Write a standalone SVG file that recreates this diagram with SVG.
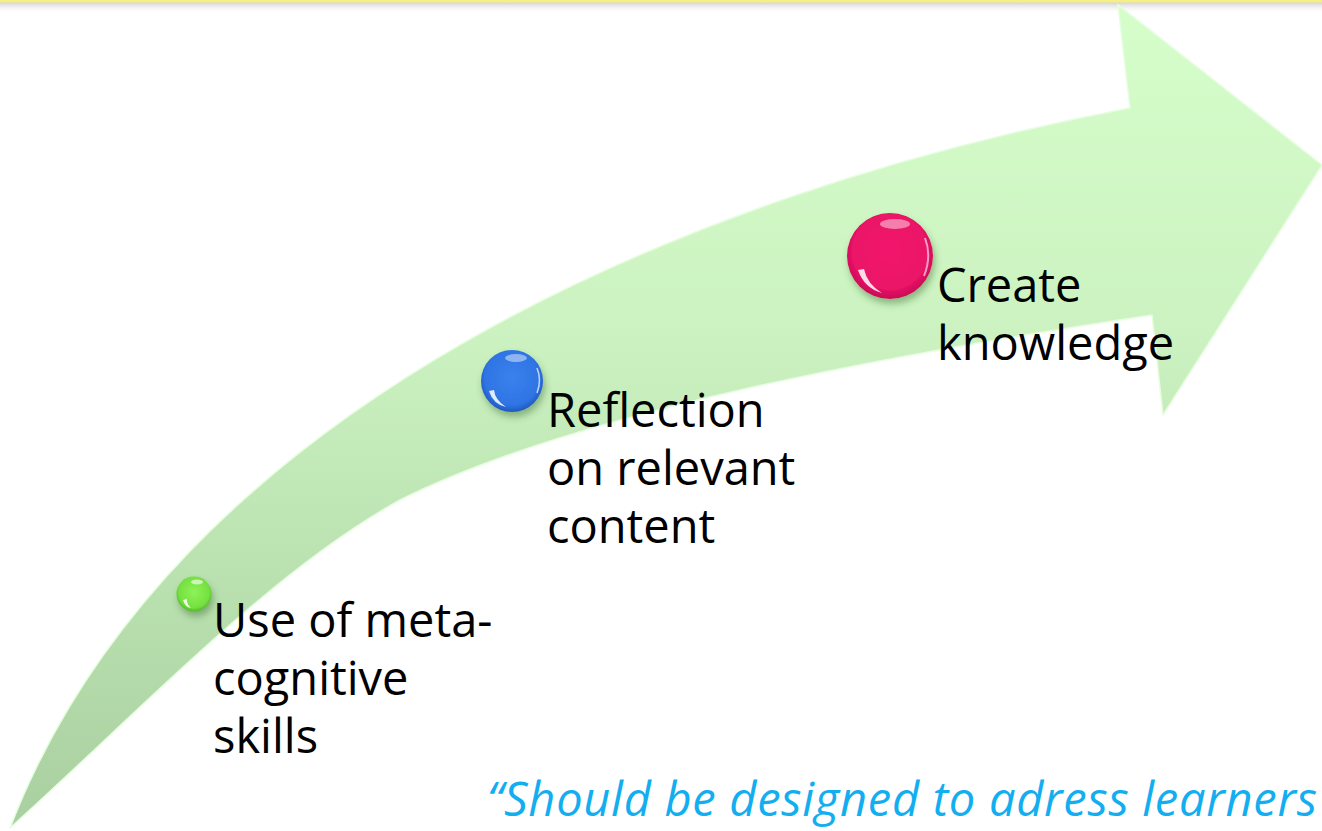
<svg xmlns="http://www.w3.org/2000/svg" width="1322" height="831" viewBox="0 0 1322 831">
  <defs>
    <linearGradient id="arrowFill" gradientUnits="userSpaceOnUse" x1="0" y1="0" x2="0" y2="831">
      <stop offset="0" stop-color="#d6fecb"/>
      <stop offset="0.4" stop-color="#cbf2c0"/>
      <stop offset="1" stop-color="#a9cfa0"/>
    </linearGradient>
    <linearGradient id="topShadow" x1="0" y1="0" x2="0" y2="1">
      <stop offset="0" stop-color="#d0d0d0"/>
      <stop offset="1" stop-color="#ffffff" stop-opacity="0"/>
    </linearGradient>
    <radialGradient id="pinkG" cx="0.5" cy="0.45" r="0.55">
      <stop offset="0" stop-color="#f2176c"/>
      <stop offset="0.8" stop-color="#ea1266"/>
      <stop offset="1" stop-color="#c50c56"/>
    </radialGradient>
    <radialGradient id="blueG" cx="0.5" cy="0.45" r="0.55">
      <stop offset="0" stop-color="#3a82ee"/>
      <stop offset="0.8" stop-color="#2f74e4"/>
      <stop offset="1" stop-color="#1f58be"/>
    </radialGradient>
    <radialGradient id="greenG" cx="0.5" cy="0.45" r="0.55">
      <stop offset="0" stop-color="#8ef25a"/>
      <stop offset="0.8" stop-color="#74e03e"/>
      <stop offset="1" stop-color="#52b82a"/>
    </radialGradient>
    <filter id="shadow" x="-40%" y="-40%" width="180%" height="190%">
      <feDropShadow dx="2" dy="5" stdDeviation="3.5" flood-color="#3a6a30" flood-opacity="0.45"/>
    </filter>
  </defs>
  <style>
    .label { font-family: "Open Sans", "Noto Sans", "Liberation Sans", sans-serif; font-size: 47px; fill: #000000; }
    .quote { font-family: "Open Sans", "Noto Sans", "Liberation Sans", sans-serif; font-size: 47px; font-style: italic; fill: #12aef0; }
    .hl { fill: #ffffff; }
  </style>

  <rect x="0" y="0" width="1322" height="831" fill="#ffffff"/>
  <rect x="0" y="2" width="1322" height="12" fill="url(#topShadow)"/>
  <rect x="0" y="0" width="1322" height="2.5" fill="#f6ef86"/>

  <g id="arrow">
    <path d="M10,828 C170,412 680,193.5 1130,108 L1118,5 L1322,165 L1163,415 L1152,315 C902,352.5 580,410 400,500 C270,571.5 140,711 10,828 Z" fill="url(#arrowFill)" stroke="#e6fde0" stroke-width="1.5" stroke-linejoin="miter"/>
  </g>

  <g id="node-metacognitive">
    <g filter="url(#shadow)">
      <circle cx="194" cy="594" r="17.5" fill="url(#greenG)"/>
    </g>
    <path class="hl" d="M183,600 q2,7 8,8 q-5,-5 -4,-9 z" opacity="0.85"/>
    <ellipse class="hl" cx="197" cy="582" rx="6" ry="2.5" opacity="0.6"/>
    <text class="label" x="213" y="637">Use of meta-</text>
    <text class="label" x="213" y="695">cognitive</text>
    <text class="label" x="213" y="753">skills</text>
  </g>

  <g id="node-reflection">
    <g filter="url(#shadow)">
      <circle cx="512" cy="381" r="31" fill="url(#blueG)"/>
    </g>
    <path class="hl" d="M489,391 q4,13 17,16 q-11,-7 -12,-17 z" opacity="0.85"/>
    <ellipse class="hl" cx="516" cy="358" rx="11" ry="4" opacity="0.45"/>
    <path d="M537,368 q5,12 0,25" stroke="#ffffff" stroke-width="1.5" fill="none" opacity="0.7"/>
    <text class="label" x="547" y="427">Reflection</text>
    <text class="label" x="547" y="485">on relevant</text>
    <text class="label" x="547" y="543">content</text>
  </g>

  <g id="node-create">
    <g filter="url(#shadow)">
      <circle cx="890" cy="256" r="43" fill="url(#pinkG)"/>
    </g>
    <path class="hl" d="M858,270 q6,18 24,23 q-15,-9 -18,-24 z" opacity="0.85"/>
    <ellipse class="hl" cx="895" cy="224" rx="15" ry="5" opacity="0.45"/>
    <path d="M925,238 q7,18 -1,38" stroke="#ffffff" stroke-width="2" fill="none" opacity="0.6"/>
    <text class="label" x="937" y="302">Create</text>
    <text class="label" x="937" y="360">knowledge</text>
  </g>

  <g id="quote">
    <text class="quote" x="487" y="816" textLength="830" lengthAdjust="spacing">“Should be designed to adress learners</text>
  </g>
</svg>
